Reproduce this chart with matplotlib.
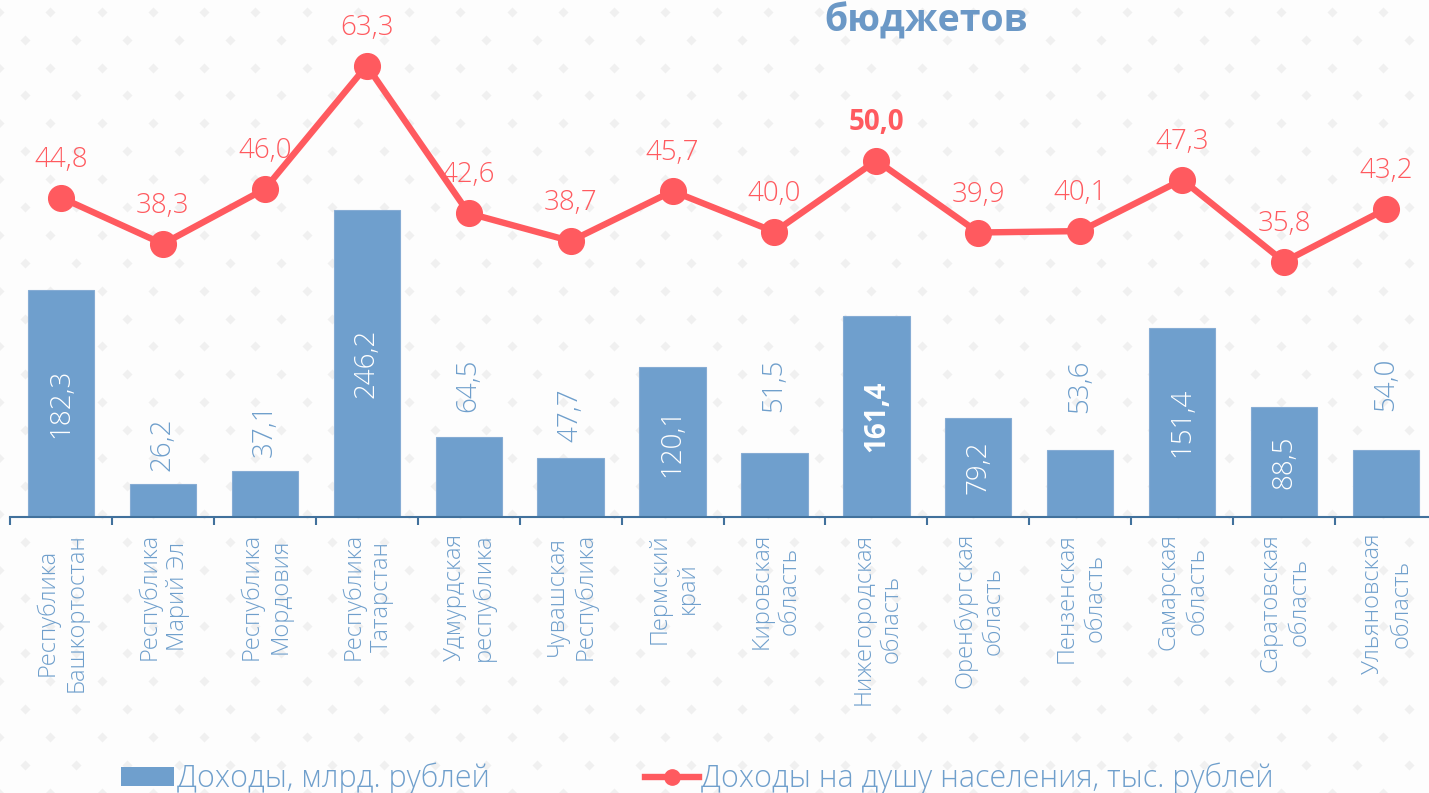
import numpy as np
import matplotlib
matplotlib.use("Agg")
import matplotlib.pyplot as plt
from matplotlib.lines import Line2D
from matplotlib.patches import Patch

# ---------------- data ----------------
categories = ["Республика\nБашкортостан", "Республика\nМарий Эл", "Республика\nМордовия",
              "Республика\nТатарстан", "Удмурдская\nреспублика", "Чувашская\nРеспублика",
              "Пермский\nкрай", "Кировская\nобласть", "Нижегородская\nобласть",
              "Оренбургская\nобласть", "Пензенская\nобласть", "Самарская\nобласть",
              "Саратовская\nобласть", "Ульяновская\nобласть"]
income_bln = [182.3, 26.2, 37.1, 246.2, 64.5, 47.7, 120.1, 51.5, 161.4, 79.2, 53.6, 151.4, 88.5, 54.0]
income_per_capita = [44.8, 38.3, 46.0, 63.3, 42.6, 38.7, 45.7, 40.0, 50.0, 39.9, 40.1, 47.3, 35.8, 43.2]
highlight_index = 8
title_text = "бюджетов"
legend_labels = ["Доходы, млрд. рублей", "Доходы на душу населения, тыс. рублей"]

# label placement (styling): gap in pixels above bar for labels drawn outside
outside_gap_px = {1: 13, 2: 14, 4: 25, 5: 16, 7: 41, 10: 37, 13: 39}

# ---------------- style ----------------
W, H, DPI = 1429, 793, 100
BAR_C = "#6f9fcd"
RED = "#ff5a5f"
TXT_BLUE = "#6f9fcc"
AXIS_C = "#41719c"
TITLE_C = "#6b98c6"
BG = "#fdfdfd"
DOT = "#f0f0f0"

plt.rcParams['font.family'] = ['Open Sans', 'DejaVu Sans']

fig = plt.figure(figsize=(W / DPI, H / DPI), dpi=DPI, facecolor=BG)

# background diamond pattern (decoration)
bg = fig.add_axes([0, 0, 1, 1], zorder=-5)
bg.set_xlim(0, W)
bg.set_ylim(H, 0)
bg.axis("off")
dx, dy = 51.26, 27.9
xs, ys = [], []
for r in range(int(H / dy) + 2):
    y = 11.7 + r * dy
    off = -0.9 + (dx / 2 if r % 2 else 0)
    for c in range(int(W / dx) + 2):
        xs.append(off + c * dx)
        ys.append(y)
bg.scatter(xs, ys, marker="D", s=26, color=DOT, linewidths=0)

# main axes
left_px, bottom_px, top_px = 10, 517, 30
n = len(categories)
slot = 101.93
ax = fig.add_axes([left_px / W, 1 - bottom_px / H, n * slot / W, (bottom_px - top_px) / H])
ax.set_facecolor("none")
bar_scale = 1.246   # px per unit
line_scale = 7.13   # px per unit
ax.set_ylim(0, (bottom_px - top_px) / bar_scale)
ax.set_xlim(-0.5, n - 0.5)

x = np.arange(n)
ax.bar(x, income_bln, width=0.65, color=BAR_C, edgecolor="#86acd4", linewidth=0.8, zorder=2)

for s in ["top", "right", "left"]:
    ax.spines[s].set_visible(False)
ax.spines["bottom"].set_color(AXIS_C)
ax.spines["bottom"].set_linewidth(1.5)
ax.set_yticks([])
ax.set_xticks(x)
ax.set_xticklabels([])
ax.tick_params(axis="x", which="major", length=0)
ax.set_xticks(np.arange(n + 1) - 0.5, minor=True)
ax.tick_params(axis="x", which="minor", length=6, width=1.5, color=AXIS_C, direction="out")

# category labels
for i, lab in enumerate(categories):
    ax.annotate(lab, xy=(i, 0), xytext=(1, -16), textcoords="offset pixels",
                rotation=90, ha="center", va="top", multialignment="center",
                fontsize=17, fontweight="light", color=TXT_BLUE, linespacing=1.25)

# bar labels
for i, v in enumerate(income_bln):
    txt = f"{v:.1f}".replace(".", ",")
    bold = "bold" if i == highlight_index else "light"
    if i in outside_gap_px:
        ax.annotate(txt, xy=(i, v), xytext=(0, outside_gap_px[i]), textcoords="offset pixels",
                    rotation=90, ha="center", va="bottom", fontsize=20, color=TXT_BLUE,
                    fontweight=bold, zorder=4)
    else:
        ax.text(i, v / 2, txt, rotation=90, ha="center", va="center", fontsize=20,
                color="white", fontweight=bold, zorder=4)

# line axis
ax2 = ax.twinx()
ax2.set_ylim(0, (bottom_px - top_px) / line_scale)
ax2.set_facecolor("none")
ax2.axis("off")
ax2.plot(x, income_per_capita, color=RED, linewidth=4.6, marker="o", markersize=18.5,
         zorder=5, solid_capstyle="round")
for i, v in enumerate(income_per_capita):
    txt = f"{v:.1f}".replace(".", ",")
    bold = "bold" if i == highlight_index else "light"
    ax2.annotate(txt, xy=(i, v), xytext=(0, 31), textcoords="offset pixels",
                 ha="center", va="baseline", fontsize=20, color=RED, fontweight=bold)

# title (partially visible)
fig.text(926 / W, 1 - 32 / H, title_text, ha="center", va="baseline", fontsize=27,
         fontweight="bold", color=TITLE_C)

# legend
handles = [Patch(facecolor=BAR_C, edgecolor="none"),
           Line2D([0], [0], color=RED, linewidth=4.6, marker="o", markersize=11)]
leg = fig.legend(handles, legend_labels, ncol=2, loc="center left",
                 bbox_to_anchor=(121 / W, 1 - 779 / H), frameon=False,
                 prop={"size": 22, "weight": "light"},
                 handlelength=1.75, handleheight=0.57, handletextpad=0.07, columnspacing=5.1,
                 borderpad=0, borderaxespad=0, labelcolor=TXT_BLUE)

fig.savefig("out.png", dpi=DPI, facecolor=BG)
